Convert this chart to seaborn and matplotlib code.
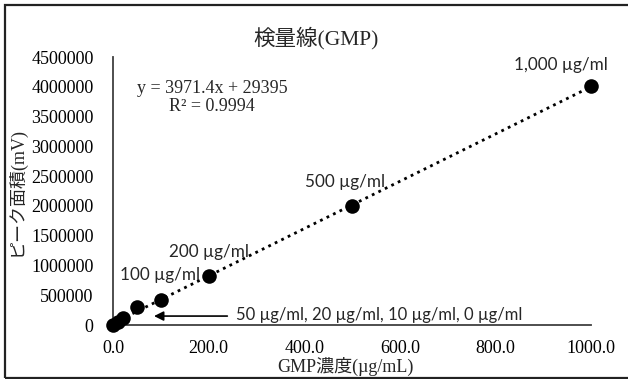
import numpy as np
import pandas as pd
import matplotlib
matplotlib.use("Agg")
import matplotlib.pyplot as plt
from matplotlib.patches import Rectangle
import seaborn as sns

# Standard concentrations (µg/mL) and measured peak areas (mV)
concentration = [0, 10, 20, 50, 100, 200, 500, 1000]
peak_area = [0, 55000, 115000, 300000, 420000, 820000, 2000000, 4010000]

# Linear trendline coefficients
slope = 3971.4
intercept = 29395
r_squared = 0.9994

x_ticks = [0, 200, 400, 600, 800, 1000]
y_ticks = [0, 500000, 1000000, 1500000, 2000000, 2500000, 3000000, 3500000, 4000000, 4500000]

point_labels = ["100 µg/ml", "200 µg/ml", "500 µg/ml", "1,000 µg/ml"]
point_label_x = [100, 200, 500, 1000]
low_label = "50 µg/ml, 20 µg/ml, 10 µg/ml, 0 µg/ml"

df = pd.DataFrame({"conc": concentration, "area": peak_area})

sns.set_theme(style="white")
serif_jp = ["Liberation Serif", "Noto Sans CJK JP"]
label_font = ["Lato", "DejaVu Sans"]
plt.rcParams["font.family"] = serif_jp

fig = plt.figure(figsize=(6.28, 3.79), dpi=100)
ax = fig.add_axes([113 / 628, 1 - 325 / 379, (591 - 113) / 628, (325 - 57) / 379])

# Trendline across the data range
xs = np.array([min(concentration), max(concentration)])
ax.plot(xs, slope * xs + intercept, linestyle=(0, (1, 1.6)), color="black", lw=2, zorder=2)

sns.scatterplot(data=df, x="conc", y="area", ax=ax, s=110, color="black",
                edgecolor="black", linewidth=0, zorder=3, clip_on=False, legend=False)

ax.set_xlim(0, 1000)
ax.set_ylim(0, 4500000)
ax.set_xticks(x_ticks)
ax.set_xticklabels([f"{v:.1f}" for v in x_ticks])
ax.set_yticks(y_ticks)
ax.set_yticklabels([f"{v:d}" for v in y_ticks])
ax.tick_params(axis="both", length=0, labelsize=13, colors="black")
ax.tick_params(axis="x", pad=11)
ax.tick_params(axis="y", pad=14)

for side in ["top", "right"]:
    ax.spines[side].set_visible(False)
for side in ["left", "bottom"]:
    ax.spines[side].set_color("#404040")
    ax.spines[side].set_linewidth(1.3)

ax.set_xlabel("")
ax.set_ylabel("ピーク面積(mV)", fontsize=13, labelpad=4, family=serif_jp)
fig.text(345 / 628, 1 - 366 / 379, "GMP濃度(µg/mL)", fontsize=13, ha="center", va="center",
         family=serif_jp)
fig.text(316 / 628, 1 - 38 / 379, "検量線(GMP)", fontsize=15.5, ha="center", va="center",
         family=serif_jp)

# Point labels, offset above each point
label_offsets = {100: (-2, 420000), 200: (1, 406000), 500: (-15, 401000), 1000: (-63, 355000)}
for txt, xv in zip(point_labels, point_label_x):
    yv = peak_area[concentration.index(xv)]
    dx, dy = label_offsets[xv]
    ax.text(xv + dx, yv + dy, txt, fontsize=12.3, family=label_font, ha="center", va="center")

# Arrow pointing at the clustered low-concentration points
ax.annotate("", xy=(80, 150000), xytext=(245, 150000),
            arrowprops=dict(arrowstyle="-|>", color="black", lw=1.2, mutation_scale=14))
ax.text(258, 160000, low_label, fontsize=12, family=label_font, ha="left", va="center")

# Regression equation
ax.text(207, 3979000, f"y = {slope}x + {intercept}", fontsize=13, ha="center", va="center",
        family=serif_jp)
ax.text(207, 3677000, f"R² = {r_squared}", fontsize=13, ha="center", va="center",
        family=serif_jp)

# Chart border
fig.patches.append(Rectangle((4.5 / 628, 1.0 / 379), 1.2, 1 - 6 / 379,
                             transform=fig.transFigure, fill=False,
                             edgecolor="#222222", linewidth=1.6))

fig.savefig("out.png", dpi=100)
